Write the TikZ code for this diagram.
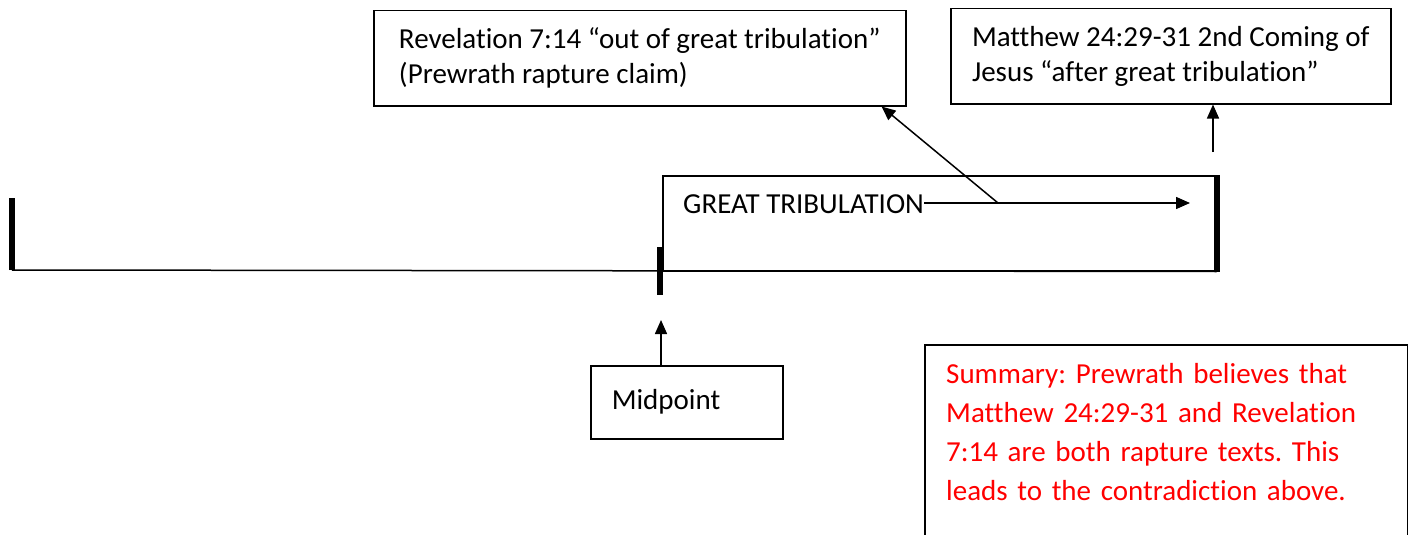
\documentclass[tikz,border=0pt]{standalone}
\usepackage{fontspec}
\setmainfont{Carlito}[Ligatures={NoCommon}]
\usetikzlibrary{arrows.meta}
\frenchspacing

\begin{document}
\begin{tikzpicture}[x=1pt, y=-1pt,
  box/.style={draw, line width=1.5pt, anchor=north west, align=left,
    inner xsep=21pt, font=\fontsize{29}{35}\selectfont},
  bar/.style={line width=6pt},
  rule/.style={line width=1.5pt},
  link/.style={line width=1.5pt, -{Triangle[length=14pt,width=12pt]}}]
  \useasboundingbox (0,0) rectangle (1411,535);
  % upper boxes
  \node[box, inner xsep=0pt, minimum width=532pt, minimum height=95pt] (rev) at (373,10)
    {Revelation 7:14 “out of great tribulation”\\(Prewrath rapture claim)};
  \node[box, inner xsep=0pt, minimum width=440pt, minimum height=95pt] (matt) at (950,8)
    {Matthew 24:29-31 2nd Coming of\\Jesus “after great tribulation”};
  % great tribulation
  \node[box, minimum width=553pt, minimum height=95pt] (trib) at (662,175) {};
  \node[anchor=west, inner sep=0pt, font=\fontsize{29}{35}\selectfont] (tribtext) at (683,204) {GREAT TRIBULATION};
  \coordinate (tribend) at (1190,203);
  \coordinate (fork) at (998,203);
  \draw[link] (tribtext.east |- tribend) -- (tribend);
  \draw[link] (fork) -- ([xshift=-25pt]rev.south east);
  \coordinate (mattfoot) at (1213,152);
  \draw[link] (mattfoot) -- (mattfoot |- matt.south);
  % time line
  \coordinate (start) at (12,270);
  \coordinate (mid) at (660,270);
  \draw[rule] (start) -- (trib.south east);
  \draw[bar] (start) -- ++(0,-72);
  \draw[bar] (mid) ++(0,-23) -- ++(0,48);
  \draw[bar] (trib.north east) -- (trib.south east);
  % midpoint
  \node[box, minimum width=192pt, minimum height=73pt, text width=150pt] (midbox) at (590,365) {Midpoint};
  \coordinate (midtip) at (661,320);
  \draw[link] (midtip |- midbox.north) -- (midtip);
  % summary
  \node[anchor=north west, align=left, text width=440pt, inner xsep=21pt, inner ysep=18pt,
    text=red, font=\fontsize{29}{39}\selectfont] (sum) at (925,345)
    {Summary: Prewrath believes that\\Matthew 24:29-31 and Revelation\\7:14 are both rapture texts. This\\leads to the contradiction above.};
  \draw[rule] (sum.north west |- 0,545) -- (sum.north west) -- (sum.north east) -- (sum.north east |- 0,545);
\end{tikzpicture}
\end{document}
